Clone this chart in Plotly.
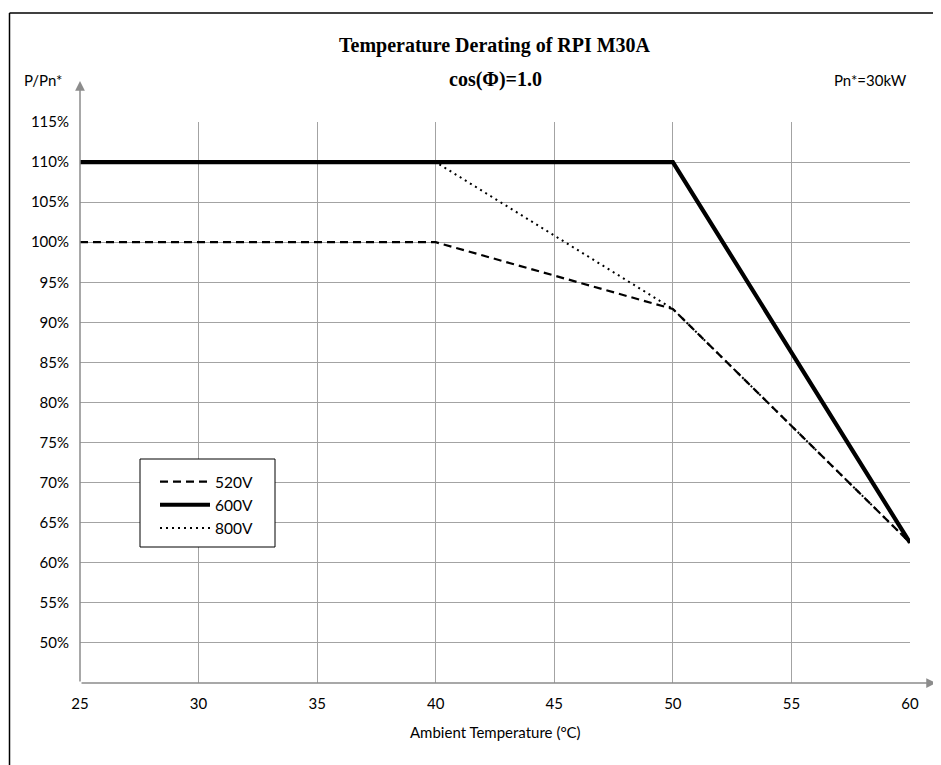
import plotly.graph_objects as go

temps_520 = [25, 40, 50, 60]
vals_520 = [100, 100, 91.67, 62.5]
temps_600 = [25, 50, 60]
vals_600 = [110, 110, 62.5]
temps_800 = [25, 40, 50, 60]
vals_800 = [110, 110, 91.67, 62.5]
x_ticks = [25, 30, 35, 40, 45, 50, 55, 60]
y_ticks = [50, 55, 60, 65, 70, 75, 80, 85, 90, 95, 100, 105, 110, 115]

# page has an 8px body margin; reference coordinates are page coordinates
OFF = 8
W, H = 941 - OFF, 765 - OFF
L, R, T, B = 80, 910, 122, 683  # plot area in page coords
pw, ph = R - L, B - T


def px(x):
    return (x - L) / pw


def py(y):
    return (B - y) / ph


FONT = "Lato"
GRID = "#a3a3a3"
AXIS = "#8c8c8c"

fig = go.Figure()
fig.add_trace(go.Scatter(x=temps_520, y=vals_520, mode="lines", name="520V",
                         line=dict(color="black", width=2.2, dash="8px,5px")))
fig.add_trace(go.Scatter(x=temps_600, y=vals_600, mode="lines", name="600V",
                         line=dict(color="black", width=4.2)))
fig.add_trace(go.Scatter(x=temps_800, y=vals_800, mode="lines", name="800V",
                         line=dict(color="black", width=2, dash="2px,4px")))

fig.update_layout(
    width=W, height=H,
    margin=dict(l=L - OFF, r=941 - R, t=T - OFF, b=765 - B),
    paper_bgcolor="white", plot_bgcolor="white",
    font=dict(family=FONT, size=15, color="black"),
    showlegend=True,
    legend=dict(x=px(155), y=py(465), xanchor="left", yanchor="top",
                bgcolor="rgba(0,0,0,0)", borderwidth=0,
                font=dict(family=FONT, size=15.5), itemwidth=50,
                tracegroupgap=0),
    xaxis=dict(range=[25, 60], tickvals=x_ticks, showgrid=True, gridcolor=GRID,
               gridwidth=1, showline=False, zeroline=False, ticks="",
               ticklabelstandoff=10, tickfont=dict(family=FONT, size=15)),
    yaxis=dict(range=[45, 115], tickvals=y_ticks,
               ticktext=[f"{v}%" for v in y_ticks], showgrid=True,
               gridcolor=GRID, gridwidth=1, showline=False, zeroline=False,
               ticks="", ticklabelstandoff=10, tickfont=dict(family=FONT, size=15)),
)

# Legend box
fig.add_shape(type="rect", xref="paper", yref="paper",
              x0=px(140), x1=px(275), y0=py(547), y1=py(459),
              line=dict(color="black", width=1), fillcolor="white", layer="above")

# Axis arrows
fig.add_annotation(x=px(936), y=0, xref="paper", yref="paper", text="",
                   showarrow=True, ax=-(936 - L), ay=0, arrowhead=2, arrowsize=1.3,
                   arrowwidth=1.5, arrowcolor=AXIS, standoff=0)
fig.add_annotation(x=0, y=py(81), xref="paper", yref="paper", text="",
                   showarrow=True, ax=0, ay=(B - 81), arrowhead=2, arrowsize=1.3,
                   arrowwidth=1.5, arrowcolor=AXIS, standoff=0)

# Texts
def label(x, y, text, family=FONT, size=15):
    fig.add_annotation(x=px(x), y=py(y), xref="paper", yref="paper",
                       xanchor="center", yanchor="middle", text=text,
                       showarrow=False,
                       font=dict(family=family, size=size, color="black"))


label(495, 45, "<b>Temperature Derating of RPI M30A</b>", "Liberation Serif", 20)
label(495, 80, "<b>cos(Φ)=1.0</b>", "Liberation Serif", 20)
label(43, 80, "P/Pn*")
label(870, 80, "Pn*=30kW")
label(495, 732, "Ambient Temperature (°C)")

# Outer frame (left and top edges visible; others fall outside the page)
fig.add_shape(type="line", xref="paper", yref="paper",
              x0=px(9.5), x1=px(940), y0=py(13), y1=py(13),
              line=dict(color="black", width=1.5), layer="above")
fig.add_shape(type="line", xref="paper", yref="paper",
              x0=px(9.5), x1=px(9.5), y0=py(13), y1=py(790),
              line=dict(color="black", width=1.5), layer="above")

fig.write_html("out.html")
